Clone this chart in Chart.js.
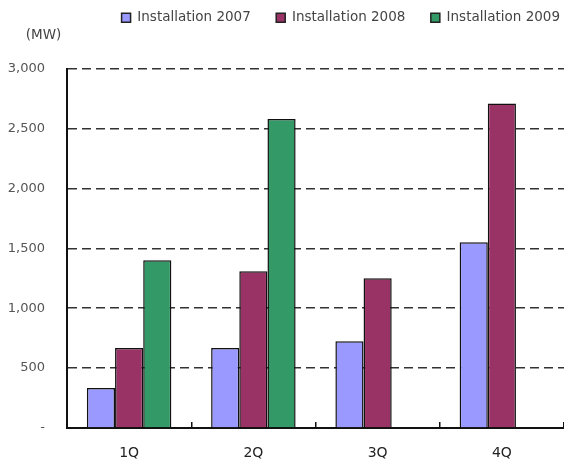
<!DOCTYPE html>
<html>
<head>
<meta charset="utf-8">
<script src="https://cdn.jsdelivr.net/npm/chart.js@4.4.1/dist/chart.umd.min.js"></script>
<style>
  html, body { margin: 0; padding: 0; background: #fff; }
  #wrap { width: 564px; height: 463px; }
</style>
</head>
<body>
<div id="wrap"><canvas id="chart"></canvas></div>
<script>
// quarters and installed capacity (MW)
const quarters = ['1Q', '2Q', '3Q', '4Q'];
const inst2007 = [333, 667, 725, 1550];
const inst2008 = [667, 1308, 1250, 2710];
const inst2009 = [1400, 2580, null, null];
const seriesNames = ['Installation 2007', 'Installation 2008', 'Installation 2009'];
const yTicks = [0, 500, 1000, 1500, 2000, 2500, 3000];

function formatTick(v) {
    if (v === 0) return '-';
    return v.toLocaleString('en-US');
}

function makeSet(label, values, color) {
    return {
        label: label,
        data: values,
        backgroundColor: color,
        borderColor: '#111',
        borderWidth: 1.5,
        borderSkipped: 'start',
        categoryPercentage: 0.68,
        barPercentage: 1.0
    };
}

const data = {
    labels: quarters,
    datasets: [
        makeSet(seriesNames[0], inst2007, '#9999ff'),
        makeSet(seriesNames[1], inst2008, '#993366'),
        makeSet(seriesNames[2], inst2009, '#339966')
    ]
};

// default legend items, with a little room after all but the last one
function legendItems(chart) {
    const items = Chart.defaults.plugins.legend.labels.generateLabels(chart);
    items.forEach((it, i) => {
        it.strokeStyle = '#222';
        it.lineWidth = 1.5;
        if (i < items.length - 1) it.text = it.text + '     ';
    });
    return items;
}

const config = {
    type: 'bar',
    data: data,
    options: {
        responsive: true,
        maintainAspectRatio: false,
        animation: false,
        layout: { padding: { top: 7, left: 0, right: 0, bottom: 2 } },
        plugins: {
            legend: {
                position: 'top',
                align: 'end',
                labels: {
                    boxWidth: 9,
                    boxHeight: 9,
                    padding: 4,
                    color: '#444',
                    generateLabels: legendItems,
                    font: { family: 'DejaVu Sans', size: 13.5 }
                }
            },
            title: {
                display: true,
                text: '      (MW)',
                align: 'start',
                weight: 500,
                color: '#444',
                padding: { top: -7, bottom: 25 },
                font: { family: 'DejaVu Sans', size: 13.5, weight: 'normal' }
            },
            tooltip: { enabled: false }
        },
        scales: {
            x: {
                offset: true,
                afterFit: (axis) => { axis.height = 33; },
                grid: {
                    offset: true,
                    drawOnChartArea: false,
                    drawTicks: true,
                    tickLength: -6,
                    color: '#111',
                    lineWidth: 1.5
                },
                border: { display: true, color: '#111', width: 2 },
                ticks: {
                    color: '#222',
                    padding: 23,
                    font: { family: 'DejaVu Sans', size: 14 }
                }
            },
            y: {
                min: 0,
                max: 3000,
                afterBuildTicks: (axis) => { axis.ticks = yTicks.map(v => ({ value: v })); },
                afterFit: (axis) => { axis.width = 67; },
                grid: {
                    drawTicks: false,
                    color: (ctx) => ctx.tick && ctx.tick.value === 0 ? 'rgba(0,0,0,0)' : '#333',
                    lineWidth: 1.6
                },
                border: { display: true, color: '#111', width: 2, dash: [9, 5] },
                ticks: {
                    color: '#555',
                    padding: 22,
                    callback: (v) => formatTick(v),
                    font: { family: 'DejaVu Sans', size: 13 }
                }
            }
        }
    }
};

new Chart(document.getElementById('chart').getContext('2d'), config);
</script>
</body>
</html>
